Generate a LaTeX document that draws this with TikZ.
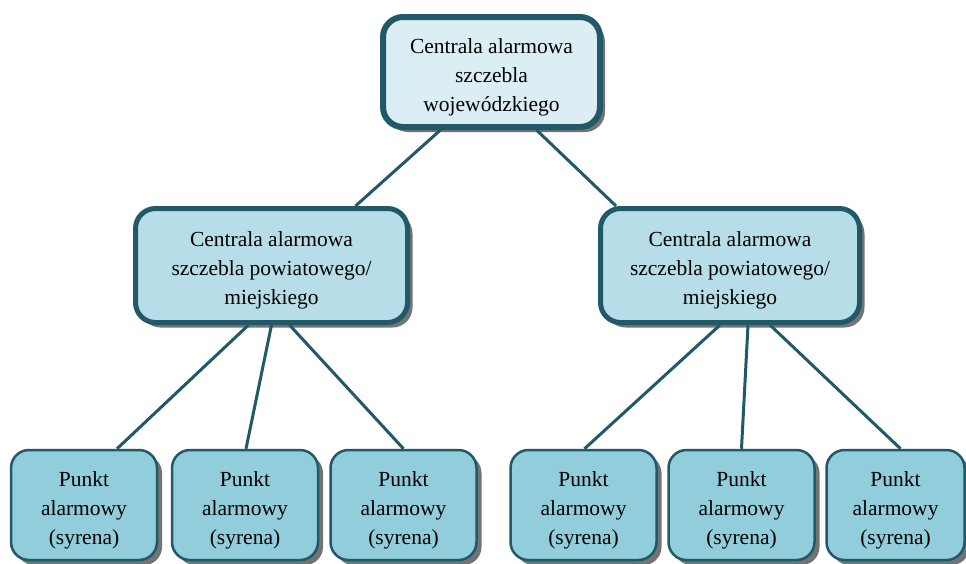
\documentclass[tikz,border=0pt]{standalone}
\usepackage{fontspec}
\setmainfont{Liberation Serif}
\usetikzlibrary{shadows,calc}
\definecolor{edge}{HTML}{215968}
\definecolor{topfill}{HTML}{DAEEF3}
\definecolor{midfill}{HTML}{B7DEE8}
\definecolor{botfill}{HTML}{92CDDC}
\tikzset{
  box/.style={draw=edge, rounded corners=20pt, align=center, inner sep=0pt,
    font=\fontsize{21.5}{29}\selectfont, text height=83pt,
    drop shadow={shadow xshift=5pt, shadow yshift=-5pt, fill=black!55, opacity=1}},
  topbox/.style={box, line width=6pt, fill=topfill, minimum width=217pt, minimum height=110pt},
  midbox/.style={box, line width=5pt, fill=midfill, minimum height=114pt},
  botbox/.style={box, line width=2.5pt, fill=botfill, rounded corners=18pt, minimum width=146pt, minimum height=110pt},
  link/.style={draw=edge, line width=3pt}
}
\begin{document}
\begin{tikzpicture}[x=1pt,y=-1pt]
\useasboundingbox (0,0) rectangle (966,563);
\node[topbox] (top) at (491.5,72) {Centrala alarmowa\\szczebla\\wojewódzkiego};
\node[midbox, minimum width=272pt] (ml) at (271.5,265.5) {Centrala alarmowa\\szczebla powiatowego/\\miejskiego};
\node[midbox, minimum width=259pt] (mr) at (730,265.5) {Centrala alarmowa\\szczebla powiatowego/\\miejskiego};
\node[botbox] (b1) at (84,505) {Punkt\\alarmowy\\(syrena)};
\node[botbox] (b2) at (245,505) {Punkt\\alarmowy\\(syrena)};
\node[botbox] (b3) at (403.5,505) {Punkt\\alarmowy\\(syrena)};
\node[botbox] (b4) at (583.5,505) {Punkt\\alarmowy\\(syrena)};
\node[botbox] (b5) at (741.5,505) {Punkt\\alarmowy\\(syrena)};
\node[botbox, minimum width=138pt] (b6) at (895.5,505) {Punkt\\alarmowy\\(syrena)};
\draw[link] ($(top.south)+(-51,0)$) -- ($(ml.north)+(84,0)$);
\draw[link] ($(top.south)+(45,0)$) -- ($(mr.north)+(-114,0)$);
\draw[link] ($(ml.south)+(-23,0)$) -- ($(b1.north)+(33,0)$);
\draw[link] ($(ml.south)+(0,0)$) -- ($(b2.north)+(1,0)$);
\draw[link] ($(ml.south)+(18,0)$) -- ($(b3.north)+(0,0)$);
\draw[link] ($(mr.south)+(-10,0)$) -- ($(b4.north)+(1,0)$);
\draw[link] ($(mr.south)+(18,0)$) -- ($(b5.north)+(0,0)$);
\draw[link] ($(mr.south)+(40,0)$) -- ($(b6.north)+(5,0)$);
\end{tikzpicture}
\end{document}
